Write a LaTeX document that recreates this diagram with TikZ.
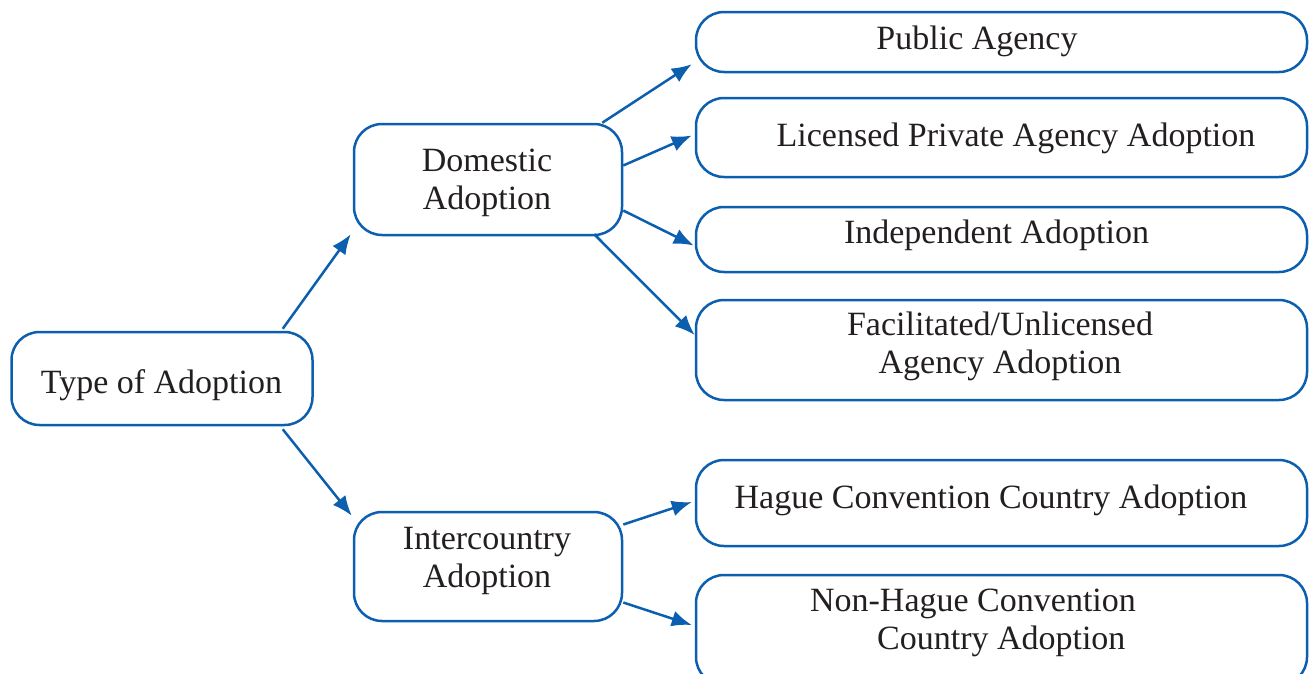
\documentclass[tikz,border=0pt]{standalone}
\usepackage{fontspec}
\setmainfont{Liberation Serif}
\usetikzlibrary{arrows.meta,calc}
\definecolor{adblue}{HTML}{0B5FAE}
\definecolor{adtext}{HTML}{231F20}

\tikzset{
  box/.style={draw=adblue,line width=2.5pt,rounded corners=28pt,inner sep=0pt},
  lbl/.style={text=adtext,font=\fontsize{34}{38}\selectfont,anchor=base,inner sep=0pt,align=center},
  link/.style={draw=adblue,line width=2.5pt,-{Latex[length=20pt,width=16pt]}}
}

\begin{document}
\begin{tikzpicture}[x=1pt,y=-1pt]
\useasboundingbox (0,0) rectangle (1309,673);
% boxes
\node[box,minimum width=301pt,minimum height=93pt] (type) at (162,378.5){};
\node[box,minimum width=268pt,minimum height=111pt] (dom) at (488,179.5){};
\node[box,minimum width=268pt,minimum height=109pt] (int) at (488,566.5){};
\node[box,minimum width=611pt,minimum height=60pt] (pub) at (1001.5,42){};
\node[box,minimum width=611pt,minimum height=79pt] (lic) at (1001.5,137.5){};
\node[box,minimum width=611pt,minimum height=65pt] (ind) at (1001.5,239.5){};
\node[box,minimum width=611pt,minimum height=100pt] (fac) at (1001.5,350){};
\node[box,minimum width=611pt,minimum height=86pt] (hag) at (1001.5,503){};
\node[box,minimum width=611pt,minimum height=110pt] (non) at (1001.5,630){};
% texts (base = last line)
\node[lbl] (typetxt) at (161.5,393){Type of Adoption};
\node[lbl] (domtxt) at (487,209){Domestic\\Adoption};
\node[lbl] (inttxt) at (487,587){Intercountry\\Adoption};
\node[lbl] (pubtxt) at (977,49){Public Agency};
\node[lbl] (lictxt) at (1016,146){Licensed Private Agency Adoption};
\node[lbl] (indtxt) at (996.5,243){Independent Adoption};
\node[lbl] (factxt) at (1000,373){Facilitated/Unlicensed\\Agency Adoption};
\node[lbl] (hagtxt) at (991,508){Hague Convention Country Adoption};
\node[lbl,align=left] (nontxt) at (973,649){Non-Hague Convention\\\hspace*{67pt}Country Adoption};
% arrows
\draw[link] ($(type.north east)+(-31,-2)$) -- ($(dom.south west)+(-2,-2)$);
\draw[link] ($(type.south east)+(-31,3)$) -- ($(int.north west)+(-1,5)$);
\draw[link] ($(dom.north east)+(-21,0)$) -- ($(pub.south west)+(-3,-9)$);
\draw[link] ($(dom.east)+(0,-14)$) -- ($(lic.west)+(-3,-2)$);
\draw[link] ($(dom.east)+(0,31)$) -- ($(ind.west)+(-1,6)$);
\draw[link] ($(dom.south east)+(-29,-2)$) -- ($(fac.west)+(0,-15)$);
\draw[link] ($(int.east)+(0,-42)$) -- ($(hag.west)+(-3,-1)$);
\draw[link] ($(int.east)+(0,36)$) -- ($(non.west)+(-3,-5)$);
\end{tikzpicture}
\end{document}
